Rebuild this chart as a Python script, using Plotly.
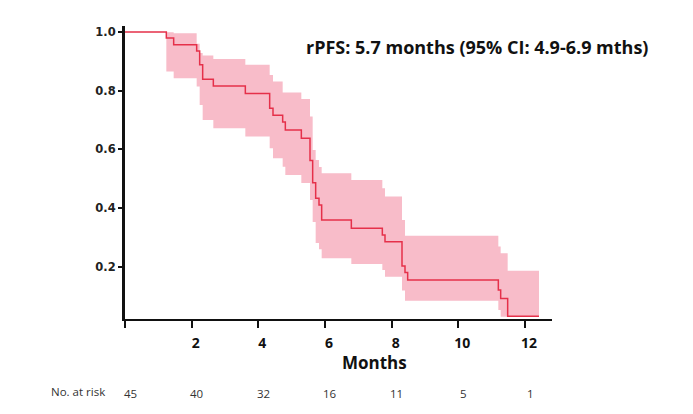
import plotly.graph_objects as go

# Kaplan-Meier step data (months)
times = [0, 1.24, 1.46, 2.15, 2.24, 2.33, 2.65, 3.61, 4.34, 4.44, 4.73, 4.81, 5.29, 5.55,
         5.63, 5.72, 5.82, 5.90, 6.79, 7.72, 7.80, 8.31, 8.40, 8.48, 11.20, 11.27, 11.48, 12.42]
survival = [1.0, 0.979, 0.956, 0.935, 0.888, 0.839, 0.816, 0.790, 0.740, 0.716, 0.693, 0.666,
            0.638, 0.562, 0.487, 0.434, 0.411, 0.360, 0.332, 0.309, 0.286, 0.203, 0.181, 0.156,
            0.122, 0.093, 0.032, 0.032]
upper = [1.0, 0.999, 0.995, 0.960, 0.928, 0.920, 0.908, 0.888, 0.853, 0.831, 0.794, 0.794,
         0.772, 0.712, 0.598, 0.564, 0.540, 0.519, 0.496, 0.468, 0.440, 0.360, 0.306, 0.306,
         0.270, 0.247, 0.187, 0.187]
lower = [1.0, 0.865, 0.842, 0.814, 0.751, 0.700, 0.672, 0.644, 0.604, 0.570, 0.541, 0.513,
         0.486, 0.428, 0.353, 0.282, 0.260, 0.230, 0.210, 0.190, 0.167, 0.120, 0.085, 0.085,
         0.054, 0.031, 0.031, 0.031]

x_ticks = [0, 2, 4, 6, 8, 10, 12]
x_ticklabels = ["", "2", "4", "6", "8", "10", "12"]
y_ticks = [0.2, 0.4, 0.6, 0.8, 1.0]
risk_times = [0, 2, 4, 6, 8, 10, 12]
at_risk = [45, 40, 32, 16, 11, 5, 1]

LINE = "#E5304A"
BAND = "#F8BCC9"

fig = go.Figure()
fig.add_trace(go.Scatter(x=times, y=lower, mode="lines", line=dict(width=0, shape="hv"),
                         hoverinfo="skip", showlegend=False))
fig.add_trace(go.Scatter(x=times, y=upper, mode="lines", line=dict(width=0, shape="hv"),
                         fill="tonexty", fillcolor=BAND, hoverinfo="skip", showlegend=False))
fig.add_trace(go.Scatter(x=times, y=survival, mode="lines", line=dict(color=LINE, width=1.5, shape="hv"),
                         showlegend=False))

fig.update_layout(
    width=693, height=414,
    margin=dict(l=125, r=141, t=26, b=95),
    paper_bgcolor="white", plot_bgcolor="white",
    xaxis=dict(range=[0, 12.81], tickvals=x_ticks, ticktext=x_ticklabels, showgrid=False,
               zeroline=False, showline=True, linecolor="#111", linewidth=2,
               ticks="outside", ticklen=7, tickwidth=2, tickcolor="#111",
               ticklabelshift=4, ticklabelstandoff=3,
               tickfont=dict(family="Open Sans", size=14, color="#111", weight="bold")),
    yaxis=dict(range=[0.023, 1.02], tickvals=y_ticks, tickformat=".1f", showgrid=False,
               zeroline=False, showline=True, linecolor="#111", linewidth=3,
               ticks="outside", ticklen=4, tickwidth=2, tickcolor="#111",
               tickfont=dict(family="DejaVu Sans", size=11.5, color="#222", weight="bold")),
)

fig.add_annotation(text="rPFS: 5.7 months (95% CI: 4.9-6.9 mths)", xref="paper", yref="paper",
                   x=0.42, y=0.928, xanchor="left", yanchor="middle", showarrow=False,
                   font=dict(family="Open Sans", size=18, color="#111", weight="bold"))
fig.add_annotation(text="Months", xref="paper", yref="paper", x=0.584, y=-0.150,
                   xanchor="center", yanchor="middle", showarrow=False,
                   font=dict(family="Open Sans", size=17, color="#111", weight="bold"))
fig.add_annotation(text="No. at risk", xref="paper", yref="paper", x=-0.110, y=-0.249,
                   xanchor="center", yanchor="middle", showarrow=False,
                   font=dict(family="Open Sans", size=11.5, color="#333"))
for t, n in zip(risk_times, at_risk):
    fig.add_annotation(text=str(n), x=t, xref="x", yref="paper", y=-0.253, xshift=5,
                       xanchor="center", yanchor="middle", showarrow=False,
                       font=dict(family="Open Sans", size=11.5, color="#333"))

fig.write_html("out.html")
